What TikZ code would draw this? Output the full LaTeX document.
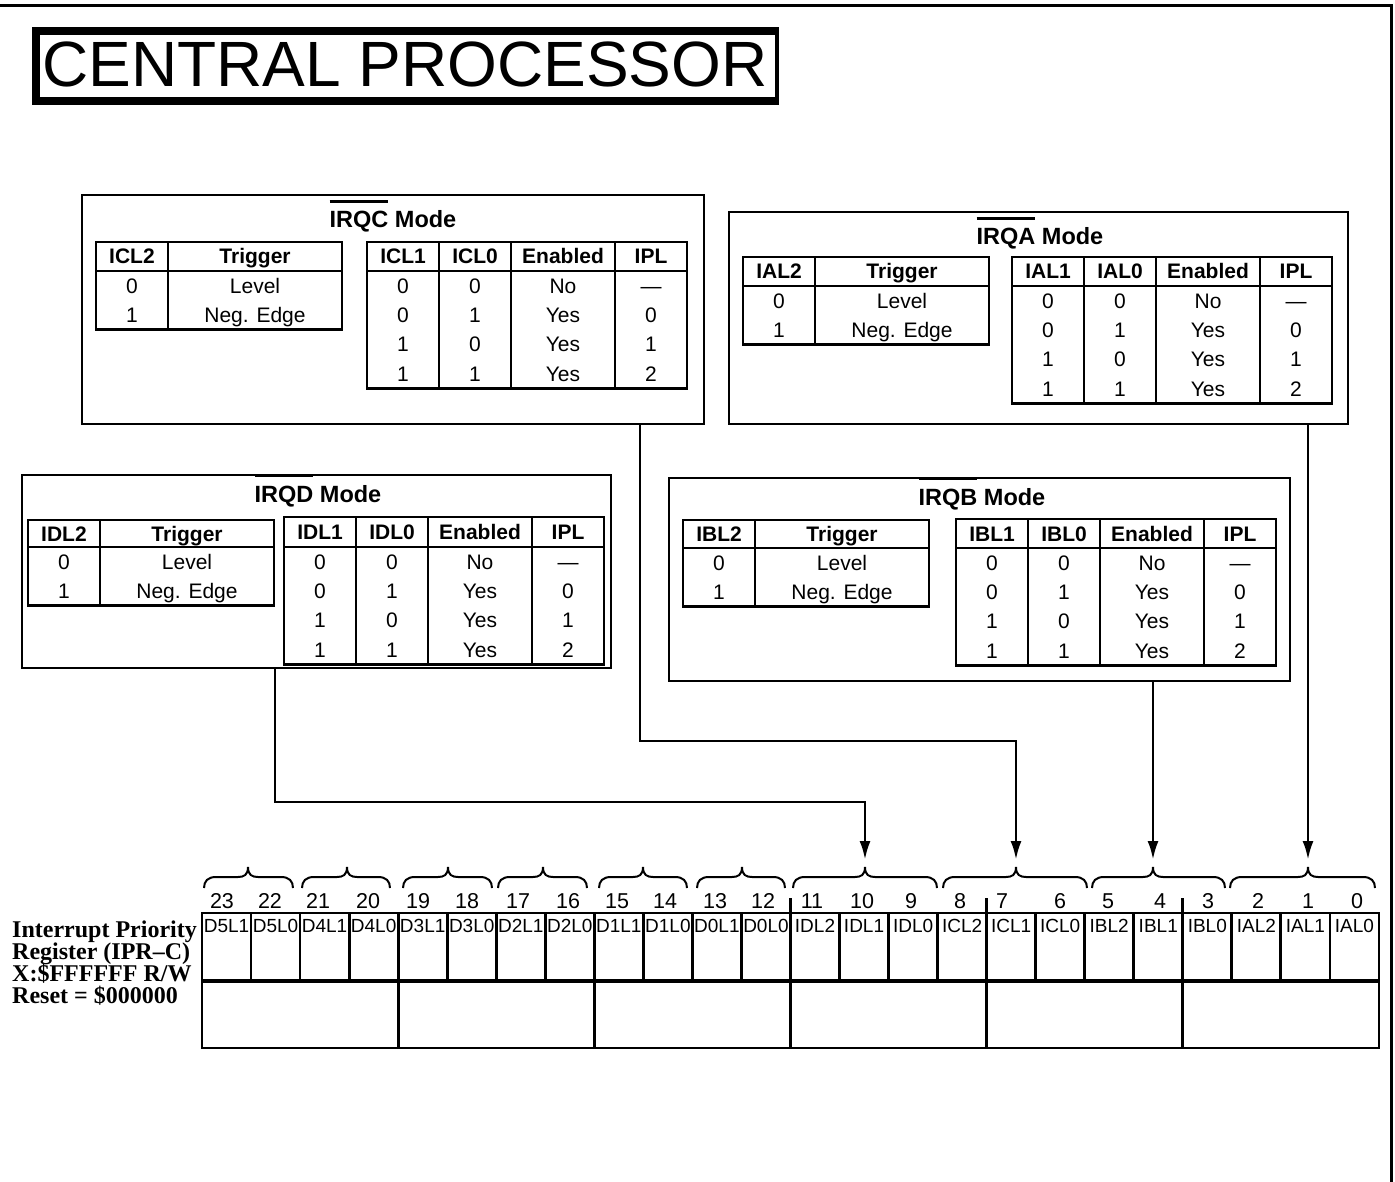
\documentclass[tikz,border=0pt]{standalone}
\usepackage{fontspec}
\setmainfont{Liberation Sans}
\newfontfamily\serifb{Liberation Serif}
\usetikzlibrary{arrows.meta}
\newcommand\ovl[1]{\vbox{\hrule height 2.5pt\kern 9pt\hbox{#1}}}
\tikzset{
  frm/.style={line width=3pt},
  boxl/.style={draw, line width=2.8pt},
  tab/.style={line width=2.8pt},
  hd/.style={anchor=base, inner sep=0pt, font=\fontsize{21}{21}\selectfont\bfseries},
  dt/.style={anchor=base, inner sep=0pt, font=\fontsize{21}{21}\selectfont},
  ttl/.style={anchor=base, inner sep=0pt, font=\fontsize{23.5}{23.5}\selectfont\bfseries},
  conn/.style={line width=2.8pt, -{Latex[length=19pt,width=11pt]}},
  brl/.style={line width=2pt},
  bitn/.style={anchor=base, inner sep=0pt, font=\fontsize{21.5}{21.5}\selectfont},
  celll/.style={anchor=base, inner sep=0pt, font=\fontsize{19}{19}\selectfont},
  reg/.style={line width=2.8pt},
  lbl/.style={anchor=base west, inner sep=0pt, font=\serifb\bfseries\fontsize{24}{22}\selectfont},
}
% mode box: id, x1, y1, x2, y2, title cx, title baseline, name
\newcommand\modebox[8]{%
  \draw[boxl] (#2,#3) rectangle (#4,#5);
  \node[ttl] (#1-title) at (#6,#7) {\ovl{#8} Mode};
}
% left table: id, x, top, header line, col name
\newcommand\lefttab[5]{%
  \draw[tab] (#2,#3) rectangle ({#2+246},{#4+58.6});
  \draw[tab] ({#2+72},#3) -- ({#2+72},{#4+58.6});
  \draw[tab] (#2,#4) -- ({#2+246},#4);
  \node[hd] (#1-lh1) at ({#2+36},{(#3+#4)/2+7.5}) {#5};
  \node[hd] (#1-lh2) at ({#2+159},{(#3+#4)/2+7.5}) {Trigger};
  \node[dt] (#1-la1) at ({#2+36},{#4+14.65+7.5}) {0};
  \node[dt] (#1-la2) at ({#2+159},{#4+14.65+7.5}) {Level};
  \node[dt] (#1-lb1) at ({#2+36},{#4+43.95+7.5}) {1};
  \node[dt] (#1-lb2) at ({#2+159},{#4+43.95+7.5}) {Neg. Edge};
}
% right table: id, x, top, header line, L1 name, L0 name
\newcommand\righttab[6]{%
  \draw[tab] (#2,#3) rectangle ({#2+320},{#4+117.2});
  \foreach \dx in {72,144,248} \draw[tab] ({#2+\dx},#3) -- ({#2+\dx},{#4+117.2});
  \draw[tab] (#2,#4) -- ({#2+320},#4);
  \node[hd] (#1-rh1) at ({#2+36},{(#3+#4)/2+7.5}) {#5};
  \node[hd] (#1-rh2) at ({#2+108},{(#3+#4)/2+7.5}) {#6};
  \node[hd] (#1-rh3) at ({#2+196},{(#3+#4)/2+7.5}) {Enabled};
  \node[hd] (#1-rh4) at ({#2+284},{(#3+#4)/2+7.5}) {IPL};
  \foreach \r/\a/\b/\e/\p in {0/0/0/No/—,1/0/1/Yes/0,2/1/0/Yes/1,3/1/1/Yes/2} {
    \node[dt] (#1-r\r-a) at ({#2+36},{#4+14.65+29.3*\r+7.5}) {\a};
    \node[dt] (#1-r\r-b) at ({#2+108},{#4+14.65+29.3*\r+7.5}) {\b};
    \node[dt] (#1-r\r-c) at ({#2+196},{#4+14.65+29.3*\r+7.5}) {\e};
    \node[dt] (#1-r\r-d) at ({#2+284},{#4+14.65+29.3*\r+7.5}) {\p};
  }
}
% brace: left x, right x, tip x
\newcommand\brc[3]{%
  \draw[brl] (#1,888) .. controls (#1,881) and ({#1+4},877) .. ({#1+12},877)
    -- ({#3-10},877) .. controls ({#3-4},877) and (#3,875) .. (#3,867)
    .. controls (#3,875) and ({#3+4},877) .. ({#3+10},877)
    -- ({#2-12},877) .. controls ({#2-4},877) and (#2,881) .. (#2,888);
}
\begin{document}
\begin{tikzpicture}[x=1pt,y=-1pt]
\useasboundingbox (0,0) rectangle (1395,1182);
% frame
\draw[frm] (0,6) -- (1393,6);
\draw[line width=3.5pt] (1391.5,4.5) -- (1391.5,1182);
% title
\fill (32,27) rectangle (779,105);
\fill[white] (40,35) rectangle (775,97);
\node[anchor=base west, inner sep=0pt, font=\fontsize{64}{64}\selectfont] (title) at (42,87) {CENTRAL PROCESSOR};
% IRQC
\modebox{C}{82}{195}{704}{424}{393}{228}{IRQC}
\lefttab{C}{96}{242}{271}{ICL2}
\righttab{C}{367}{242}{271}{ICL1}{ICL0}
% IRQA
\modebox{A}{729}{212}{1348}{424}{1040}{245}{IRQA}
\lefttab{A}{743}{257}{286}{IAL2}
\righttab{A}{1012}{257}{286}{IAL1}{IAL0}
% IRQD
\modebox{D}{22}{475}{611}{668}{318}{502}{IRQD}
\lefttab{D}{28}{520}{547}{IDL2}
\righttab{D}{284}{517}{547}{IDL1}{IDL0}
% IRQB
\modebox{B}{669}{478}{1290}{681}{982}{505}{IRQB}
\lefttab{B}{683}{520}{548}{IBL2}
\righttab{B}{956}{519}{548}{IBL1}{IBL0}
% register
\draw[reg] (202,913) rectangle (1379,1048);
\draw[line width=3.5pt] (202,981) -- (1379,981);
\foreach \i in {1,...,23} \draw[reg] ({202+49.04*\i},913) -- ({202+49.04*\i},981);
\foreach \i in {4,8,12,16,20} \draw[reg] ({202+49.04*\i},981) -- ({202+49.04*\i},1048);
\foreach \i in {12,16,20} \draw[reg] ({202+49.04*\i},898) -- ({202+49.04*\i},913);
\foreach [count=\i from 0] \lab in {D5L1,D5L0,D4L1,D4L0,D3L1,D3L0,D2L1,D2L0,D1L1,D1L0,D0L1,D0L0,IDL2,IDL1,IDL0,ICL2,ICL1,ICL0,IBL2,IBL1,IBL0,IAL2,IAL1,IAL0}
  \node[celll] (cell\i) at ({226.52+49.04*\i},932) {\lab};
\foreach [count=\i from 0] \bx in {222,270,318,368,418,467,518,568,617,665,715,763,812,862,911,960,1002,1060,1108,1160,1208,1258,1308,1357} {
  \pgfmathtruncatemacro\bitv{23-\i}
  \node[bitn] (bit\bitv) at (\bx,908) {\bitv};
}
% braces
\brc{204}{293}{248}
\brc{302}{390}{347}
\brc{403}{492}{448}
\brc{498}{587}{543}
\brc{599}{687}{643}
\brc{697}{785}{742}
\brc{793}{937}{865}
\brc{943}{1087}{1016}
\brc{1092}{1225}{1153}
\brc{1230}{1375}{1308}
% label
\node[lbl] (ipr1) at (12,937) {Interrupt Priority};
\node[lbl] (ipr2) at (12,959) {Register (IPR–C)};
\node[lbl] (ipr3) at (12,981) {X:\$FFFFFF R/W};
\node[lbl] (ipr4) at (12,1003) {Reset = \$000000};
% connectors
\coordinate (Dout) at (275,668);
\coordinate (Cout) at (640,424);
\coordinate (Bout) at (1153,681);
\coordinate (Aout) at (1308,424);
\coordinate (tD) at (865,860);
\coordinate (tC) at (1016,860);
\coordinate (tB) at (1153,860);
\coordinate (tA) at (1308,860);
\draw[conn] (Dout) -- ++(0,134) -| (tD);
\draw[conn] (Cout) -- ++(0,317) -| (tC);
\draw[conn] (Bout) -- (tB);
\draw[conn] (Aout) -- (tA);
\end{tikzpicture}
\end{document}
